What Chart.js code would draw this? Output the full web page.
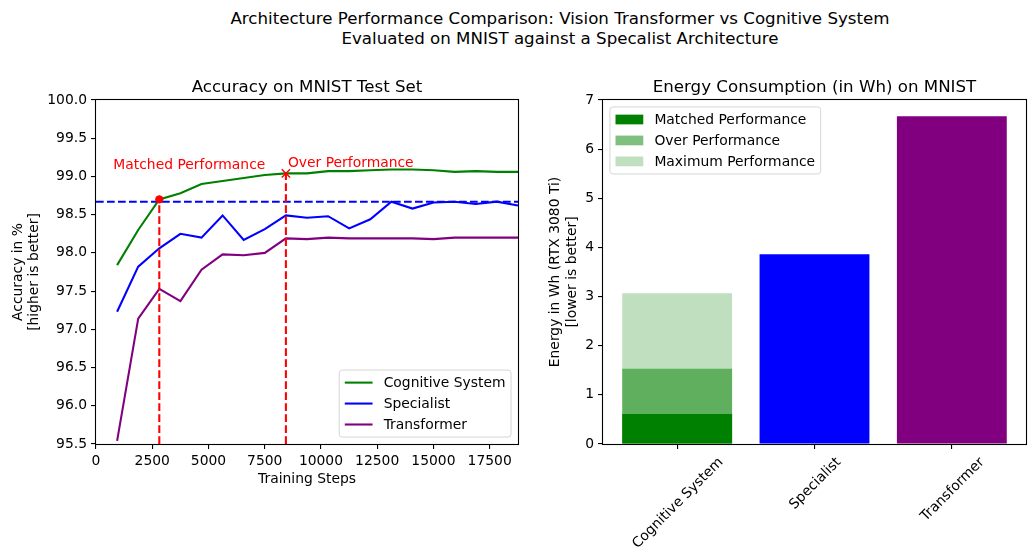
<!DOCTYPE html>
<html>
<head>
<meta charset="utf-8">
<script src="https://cdn.jsdelivr.net/npm/chart.js@4.4.1/dist/chart.umd.min.js"></script>
<style>
  html, body { margin: 0; padding: 0; background: #fff; }
  #fig { position: relative; width: 1034px; height: 560px; overflow: hidden; font-family: "DejaVu Sans"; }
  #suptitle {
    position: absolute; left: 0; top: 9px; width: 1120px;
    text-align: center; font-size: 16.67px; line-height: 20px; color: #000;
  }
  #acc { position: absolute; left: 0; top: 0; }
  #energy { position: absolute; left: 530px; top: 0; }
</style>
</head>
<body>
<div id="fig">
  <div id="suptitle">Architecture Performance Comparison: Vision Transformer vs Cognitive System<br>Evaluated on MNIST against a Specalist Architecture</div>
  <canvas id="acc" width="530" height="560"></canvas>
  <canvas id="energy" width="504" height="560"></canvas>
</div>
<script>
// accuracy curves (one point per epoch)
const steps = [938, 1876, 2814, 3752, 4690, 5628, 6566, 7504, 8442, 9380,
  10318, 11256, 12194, 13132, 14070, 15008, 15946, 16884, 17822, 18760];
const cognitiveAcc = [97.84, 98.30, 98.70, 98.78, 98.90, 98.94, 98.98, 99.02, 99.04, 99.04,
  99.07, 99.07, 99.08, 99.09, 99.09, 99.08, 99.06, 99.07, 99.06, 99.06];
const specialistAcc = [97.23, 97.82, 98.06, 98.25, 98.20, 98.49, 98.17, 98.31, 98.49, 98.46,
  98.48, 98.32, 98.44, 98.67, 98.58, 98.66, 98.67, 98.64, 98.67, 98.62];
const transformerAcc = [95.54, 97.14, 97.53, 97.37, 97.78, 97.98, 97.97, 98.00, 98.19, 98.18,
  98.20, 98.19, 98.19, 98.19, 98.19, 98.18, 98.20, 98.20, 98.20, 98.20];

const specialistBest = 98.67;
const matchedStep = 2814, matchedAcc = 98.70;
const overStep = 8442, overAcc = 99.04;

const xTicks = [0, 2500, 5000, 7500, 10000, 12500, 15000, 17500];
const accMin = 95.5, accMax = 100, stepMax = 18760;

// energy per model
const models = ['Cognitive System', 'Specialist', 'Transformer'];
const perfLevels = ['Matched Performance', 'Over Performance', 'Maximum Performance'];
const cognitiveEnergy = [0.61, 1.53, 3.07];
const otherEnergy = [3.86, 6.67];   // Specialist, Transformer

const F = 13.89;      // 10pt at 100 dpi
const LW = 2.08;      // 1.5pt lines
Chart.defaults.font.family = '"DejaVu Sans"';
Chart.defaults.font.size = F;
Chart.defaults.color = '#000';
Chart.defaults.animation = false;
Chart.defaults.events = [];

const pts = (xs, ys) => xs.map((x, i) => ({ x, y: ys[i] }));
const dash = [7.7, 3.3];

// box round the plot area, like matplotlib spines, plus the axes title
const frame = {
  id: 'frame',
  afterDatasetsDraw(chart) {
    const { ctx, chartArea: a } = chart;
    ctx.save();
    ctx.strokeStyle = '#000';
    ctx.lineWidth = 1.1;
    ctx.strokeRect(a.left - 0.5, a.top - 0.5, a.right - a.left + 1, a.bottom - a.top + 1);
    const t = chart.options.plugins.frame.title;
    ctx.font = '16.67px "DejaVu Sans"';
    ctx.textAlign = 'center';
    ctx.textBaseline = 'alphabetic';
    ctx.fillStyle = '#000';
    ctx.fillText(t, (a.left + a.right) / 2, a.top - 8);
    ctx.restore();
  }
};

// matplotlib-style legend inside the axes
function drawLegend(chart, corner, kind) {
  const { ctx, chartArea: a } = chart;
  const items = chart.data.datasets.filter(d => !d.label.startsWith('_'));
  ctx.save();
  ctx.font = F + 'px "DejaVu Sans"';
  const pad = 0.4 * F, hl = 2 * F, htp = 0.8 * F, sp = 0.5 * F, rowH = 14, gap = 0.5 * F;
  const textW = Math.max(...items.map(d => ctx.measureText(d.label).width));
  const w = pad * 2 + hl + htp + textW;
  const h = pad * 2 + items.length * rowH + (items.length - 1) * sp;
  let x0, y0;
  if (corner === 'lower right') { x0 = a.right - gap - w; y0 = a.bottom - gap - h; }
  else { x0 = a.left + gap; y0 = a.top + gap; }
  ctx.beginPath();
  ctx.roundRect(x0, y0, w, h, 3);
  ctx.fillStyle = 'rgba(255,255,255,0.8)';
  ctx.fill();
  ctx.strokeStyle = 'rgba(204,204,204,0.8)';
  ctx.lineWidth = 1;
  ctx.stroke();
  items.forEach((d, i) => {
    const cy = y0 + pad + rowH / 2 + i * (rowH + sp);
    const hx = x0 + pad;
    if (kind === 'line') {
      ctx.strokeStyle = d.borderColor;
      ctx.lineWidth = LW;
      ctx.beginPath();
      ctx.moveTo(hx, cy);
      ctx.lineTo(hx + hl, cy);
      ctx.stroke();
    } else {
      ctx.fillStyle = d.backgroundColor;
      ctx.fillRect(hx, cy - 0.35 * F, hl, 0.7 * F);
    }
    ctx.fillStyle = '#000';
    ctx.textBaseline = 'middle';
    ctx.fillText(d.label, hx + hl + htp, cy + 1);
  });
  ctx.restore();
}

const accLegend = {
  id: 'accLegend',
  afterDatasetsDraw(chart) {
    const { ctx, scales: { x, y } } = chart;
    ctx.save();
    ctx.font = F + 'px "DejaVu Sans"';
    ctx.fillStyle = 'red';
    ctx.textBaseline = 'alphabetic';
    ctx.fillText('Matched Performance', x.getPixelForValue(matchedStep) - 46, y.getPixelForValue(matchedAcc) - 30);
    ctx.fillText('Over Performance', x.getPixelForValue(overStep) + 2, y.getPixelForValue(overAcc) - 6);
    ctx.restore();
  },
  afterDraw(chart) { drawLegend(chart, 'lower right', 'line'); }
};

const energyLegend = {
  id: 'energyLegend',
  afterDraw(chart) {
    const { ctx, chartArea: a, scales: { x } } = chart;
    ctx.save();
    ctx.font = F + 'px "DejaVu Sans"';
    ctx.fillStyle = '#000';
    ctx.textAlign = 'center';
    ctx.textBaseline = 'alphabetic';
    const th = 1.164 * F;
    models.forEach((m, i) => {
      const w = ctx.measureText(m).width;
      const s = (w + th) * Math.SQRT1_2;
      const cx = x.getPixelForValue(i), cy = a.bottom + 9.5 + s / 2;
      ctx.save();
      ctx.translate(cx, cy);
      ctx.rotate(-Math.PI / 4);
      ctx.fillText(m, 0, 0.346 * F);
      ctx.restore();
    });
    ctx.restore();
    drawLegend(chart, 'upper left', 'box');
  }
};

const tickGrid = { drawOnChartArea: false, drawTicks: true, tickLength: 5, color: '#000', lineWidth: 1.1 };

new Chart(document.getElementById('acc'), {
  type: 'line',
  data: {
    datasets: [
      { label: 'Cognitive System', data: pts(steps, cognitiveAcc), borderColor: '#008000', borderWidth: LW, pointRadius: 0, order: 3 },
      { label: 'Specialist', data: pts(steps, specialistAcc), borderColor: '#0000ff', borderWidth: LW, pointRadius: 0, order: 3 },
      { label: 'Transformer', data: pts(steps, transformerAcc), borderColor: '#800080', borderWidth: LW, pointRadius: 0, order: 3 },
      { label: '_best', data: [{ x: 0, y: specialistBest }, { x: stepMax, y: specialistBest }], borderColor: '#0000ff', borderWidth: LW, borderDash: dash, pointRadius: 0, order: 2 },
      { label: '_matchedLine', data: [{ x: matchedStep, y: accMin }, { x: matchedStep, y: matchedAcc }], borderColor: 'red', borderWidth: LW, borderDash: dash, pointRadius: 0, order: 1 },
      { label: '_overLine', data: [{ x: overStep, y: accMin }, { x: overStep, y: overAcc }], borderColor: 'red', borderWidth: LW, borderDash: dash, pointRadius: 0, order: 1 },
      { label: '_matchedPt', data: [{ x: matchedStep, y: matchedAcc }], showLine: false, pointStyle: 'circle', pointRadius: 3.7, pointBorderWidth: 1, backgroundColor: 'red', borderColor: 'red', order: 0 },
      { label: '_overPt', data: [{ x: overStep, y: overAcc }], showLine: false, pointStyle: 'crossRot', pointRadius: 5.9, pointBorderWidth: 1.4, borderColor: 'red', backgroundColor: 'red', order: 0 }
    ]
  },
  options: {
    responsive: false,
    layout: { padding: { top: 100, right: 12, left: 0, bottom: 0 } },
    plugins: { legend: { display: false }, tooltip: { enabled: false }, frame: { title: 'Accuracy on MNIST Test Set' } },
    scales: {
      x: {
        type: 'linear', min: 0, max: stepMax,
        afterBuildTicks: s => { s.ticks = xTicks.map(v => ({ value: v })); },
        afterFit: s => { s.height = 116; },
        ticks: { callback: v => String(v), padding: 4, maxRotation: 0, autoSkip: false },
        grid: tickGrid,
        border: { display: false },
        title: { display: true, text: 'Training Steps', padding: { top: 0, bottom: 72 } }
      },
      y: {
        min: accMin, max: accMax,
        afterFit: s => { s.width = 96; },
        ticks: { stepSize: 0.5, callback: v => v.toFixed(1), padding: 4 },
        grid: tickGrid,
        border: { display: false },
        title: { display: true, text: ['Accuracy in %', '[higher is better]'], padding: { top: 9.6, bottom: 0 } }
      }
    }
  },
  plugins: [frame, accLegend]
});

new Chart(document.getElementById('energy'), {
  type: 'bar',
  data: {
    datasets: [
      { label: perfLevels[0], data: [{ x: 0, y: cognitiveEnergy[0] }], backgroundColor: 'rgba(0,128,0,1)' },
      { label: perfLevels[1], data: [{ x: 0, y: cognitiveEnergy[1] }], backgroundColor: 'rgba(0,128,0,0.5)' },
      { label: perfLevels[2], data: [{ x: 0, y: cognitiveEnergy[2] }], backgroundColor: 'rgba(0,128,0,0.25)' },
      { label: '_others', data: [{ x: 1, y: otherEnergy[0] }, { x: 2, y: otherEnergy[1] }], backgroundColor: ['#0000ff', '#800080'] }
    ]
  },
  options: {
    responsive: false,
    grouped: false,
    categoryPercentage: 0.8,
    barPercentage: 1,
    layout: { padding: { top: 100, right: 8, left: 0, bottom: 0 } },
    plugins: { legend: { display: false }, tooltip: { enabled: false }, frame: { title: 'Energy Consumption (in Wh) on MNIST' } },
    scales: {
      x: {
        type: 'linear', min: -0.54, max: 2.54, offset: false,
        afterBuildTicks: s => { s.ticks = models.map((m, i) => ({ value: i })); },
        afterFit: s => { s.height = 116; },
        ticks: { display: false },
        grid: Object.assign({ offset: false }, tickGrid),
        border: { display: false }
      },
      y: {
        min: 0, max: 7,
        afterFit: s => { s.width = 73; },
        ticks: { stepSize: 1, padding: 4 },
        grid: tickGrid,
        border: { display: false },
        title: { display: true, text: ['Energy in Wh (RTX 3080 Ti)', '[lower is better]'], padding: { top: 17, bottom: 0 } }
      }
    }
  },
  plugins: [frame, energyLegend]
});
</script>
</body>
</html>
